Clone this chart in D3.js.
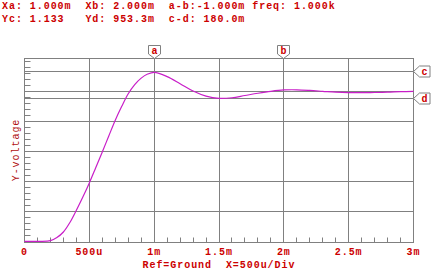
<!DOCTYPE html>
<html><head><meta charset="utf-8">
<script src="https://cdn.jsdelivr.net/npm/d3@7"></script>
<style>
html,body{margin:0;padding:0;background:#fff;}
svg{display:block;}
text{font-family:"Liberation Mono","DejaVu Sans Mono",monospace;white-space:pre;}
</style></head>
<body><svg id="c" width="435" height="274"></svg>
<script>
// ---- data ----
const timeMs = [0, 0.1, 0.2, 0.25, 0.3, 0.35, 0.4, 0.45, 0.5, 0.55, 0.6, 0.65, 0.7, 0.75, 0.8, 0.85, 0.9, 0.95, 1.0,
  1.1, 1.2, 1.3, 1.4, 1.5, 1.6, 1.7, 1.8, 1.9, 2.0, 2.1, 2.2, 2.3, 2.4, 2.5, 2.6, 2.7, 2.8, 2.9, 3.0];
const voltage = [0, 0, 0.004, 0.025, 0.062, 0.125, 0.207, 0.295, 0.389, 0.492, 0.596, 0.702, 0.807, 0.9, 0.984, 1.045, 1.088, 1.115, 1.126,
  1.098, 1.051, 1.002, 0.968, 0.953, 0.957, 0.972, 0.987, 1.0, 1.009, 1.01, 1.006, 1.0, 0.994, 0.991, 0.991, 0.992, 0.994, 0.998, 1.0];
const xTickValues = [0, 0.5, 1, 1.5, 2, 2.5, 3];
const xTickLabels = ["0", "500u", "1m", "1.5m", "2m", "2.5m", "3m"];
const yGridValues = [0.2, 0.4, 0.6, 0.8, 1.0];
const cursorXNames = ["a", "b"];
const cursorXValues = [1.0, 2.0];
const cursorYNames = ["c", "d"];
const cursorYValues = [1.133, 0.9533];
const headerLines = ["Xa: 1.000m  Xb: 2.000m  a-b:-1.000m freq: 1.000k",
                     "Yc: 1.133   Yd: 953.3m  c-d: 180.0m"];
const xAxisTitle = "Ref=Ground  X=500u/Div";
const yAxisTitle = "Y-voltage";

// ---- layout ----
const svg = d3.select("#c");
const L = 24.5, R = 413.5, T = 58.5, B = 242.5;
const x = d3.scaleLinear().domain([0, 3]).range([L, R]);
const y = d3.scaleLinear().domain([-0.008, 1.2187]).range([B, T]);
const crisp = v => Math.round(v - 0.5) + 0.5;
const GRID = "#808080", RED = "#cc0000", CURVE = "#c81ec8";

// header
svg.selectAll("text.hdr").data(headerLines).join("text")
  .attr("class", "hdr").attr("x", 2).attr("y", (d, i) => 9 + i * 13)
  .attr("fill", RED).attr("font-size", 10).attr("font-weight", "bold")
  .attr("letter-spacing", 0.95).text(d => d);

// plot background
svg.append("rect").attr("x", L).attr("y", T).attr("width", R - L).attr("height", B - T).attr("fill", "#fff");

// grid
const g = svg.append("g").attr("stroke", GRID).attr("stroke-width", 1).attr("fill", "none");
g.selectAll("line.vx").data(xTickValues.slice(1, -1)).join("line")
  .attr("x1", d => crisp(x(d))).attr("x2", d => crisp(x(d))).attr("y1", T).attr("y2", B);
g.selectAll("line.hy").data(yGridValues).join("line")
  .attr("y1", d => crisp(y(d))).attr("y2", d => crisp(y(d))).attr("x1", L).attr("x2", R);
// cursor lines
g.selectAll("line.cy").data(cursorYValues).join("line")
  .attr("y1", d => crisp(y(d))).attr("y2", d => crisp(y(d))).attr("x1", L).attr("x2", R);
g.selectAll("line.cx").data(cursorXValues).join("line")
  .attr("x1", d => crisp(x(d))).attr("x2", d => crisp(x(d))).attr("y1", T).attr("y2", B);
// minor ticks left
const yMinor = d3.range(0, 31).map(i => i * 0.04).filter(v => y(v) > T + 1);
g.selectAll("line.my").data(yMinor).join("line")
  .attr("y1", d => crisp(y(d))).attr("y2", d => crisp(y(d))).attr("x1", L).attr("x2", L + 6);
// minor ticks bottom
const xMinor = d3.range(1, 30).map(i => i * 0.1);
g.selectAll("line.mx").data(xMinor).join("line")
  .attr("x1", d => crisp(x(d))).attr("x2", d => crisp(x(d))).attr("y1", B).attr("y2", B - 5);
// border
g.append("rect").attr("x", L).attr("y", T).attr("width", R - L).attr("height", B - T);

// curve
const line = d3.line().x((d, i) => x(timeMs[i])).y(d => y(d)).curve(d3.curveCatmullRom.alpha(0.5));
svg.append("path").datum(voltage).attr("d", line).attr("fill", "none")
  .attr("stroke", CURVE).attr("stroke-width", 1.2);

// top markers
cursorXValues.forEach((v, i) => {
  const cx = crisp(x(v));
  svg.append("path")
    .attr("d", `M${cx},${T} L${cx - 6},${T - 4.5} L${cx - 6},${T - 13} L${cx + 6},${T - 13} L${cx + 6},${T - 4.5} Z`)
    .attr("fill", "#fff").attr("stroke", GRID);
  svg.append("text").attr("x", cx).attr("y", T - 5).attr("text-anchor", "middle")
    .attr("fill", RED).attr("font-size", 10).attr("font-weight", "bold").text(cursorXNames[i]);
});
// right markers
cursorYValues.forEach((v, i) => {
  const cy = crisp(y(v));
  svg.append("path")
    .attr("d", `M${R},${cy} L${R + 6},${cy - 5.5} L${R + 16.5},${cy - 5.5} L${R + 16.5},${cy + 5.5} L${R + 6},${cy + 5.5} Z`)
    .attr("fill", "#fff").attr("stroke", GRID);
  svg.append("text").attr("x", R + 11).attr("y", cy + 3.5).attr("text-anchor", "middle")
    .attr("fill", RED).attr("font-size", 10).attr("font-weight", "bold").text(cursorYNames[i]);
});

// x tick labels
svg.selectAll("text.xt").data(xTickValues).join("text")
  .attr("class", "xt").attr("x", d => x(d)).attr("y", 254.5).attr("text-anchor", "middle")
  .attr("fill", RED).attr("font-size", 10).attr("font-weight", "bold").attr("letter-spacing", 0.95)
  .text((d, i) => xTickLabels[i]);
svg.append("text").attr("x", 142.5).attr("y", 267.5)
  .attr("fill", RED).attr("font-size", 10).attr("font-weight", "bold").attr("letter-spacing", 0.95)
  .text(xAxisTitle);
svg.append("text").attr("transform", "translate(18.5,150) rotate(-90)").attr("text-anchor", "middle")
  .attr("fill", "#b01010").attr("font-size", 10).attr("letter-spacing", 0.95).text(yAxisTitle);
</script></body></html>
